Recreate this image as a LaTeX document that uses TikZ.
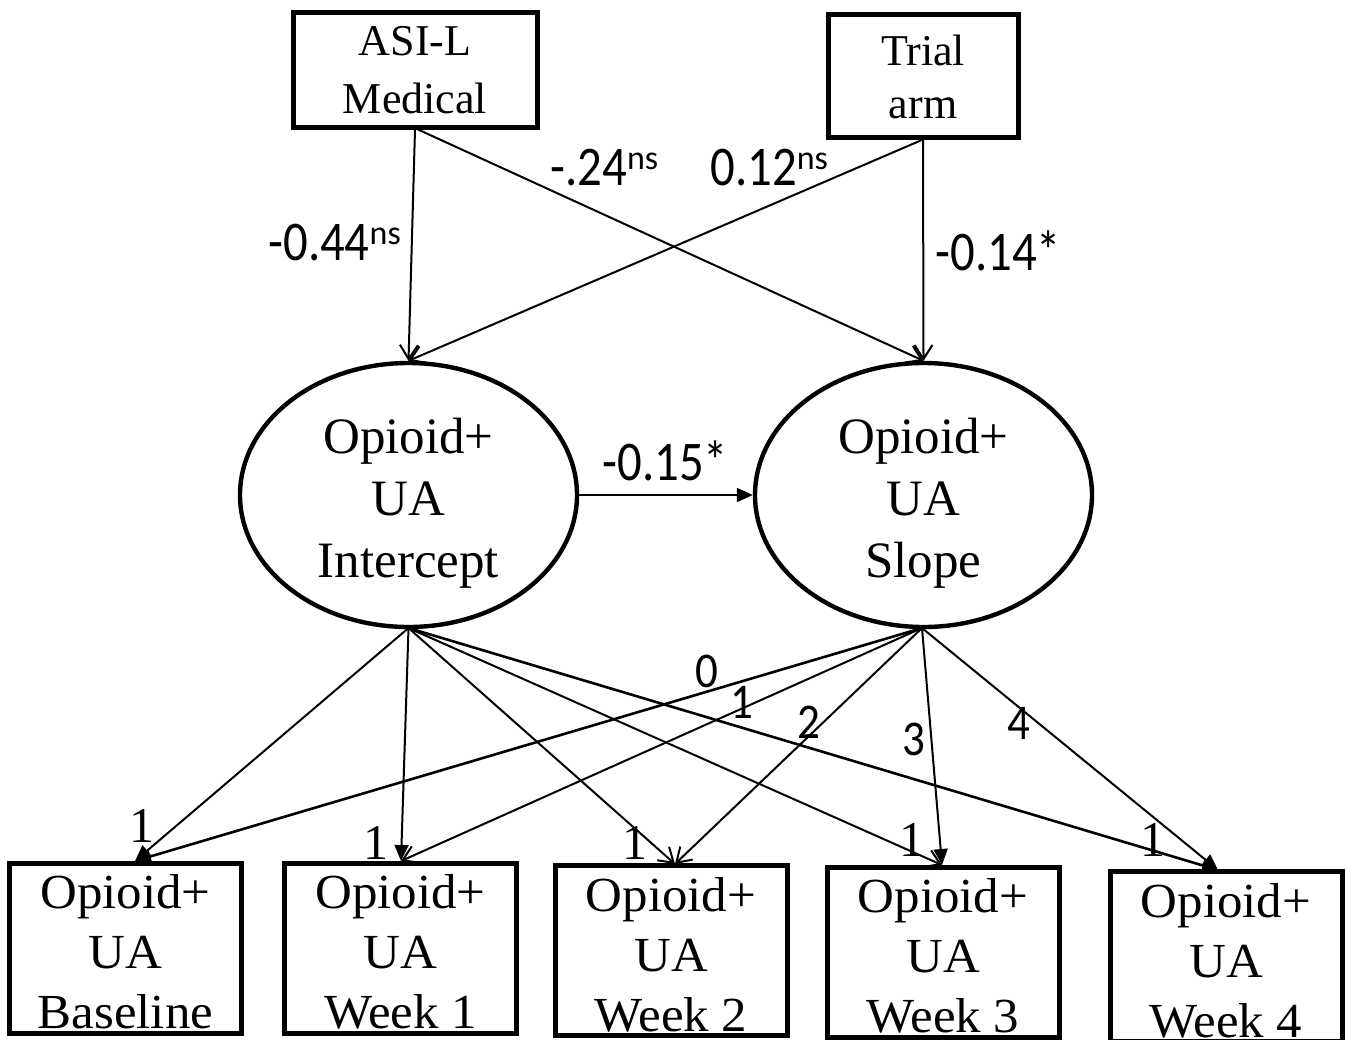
\documentclass[tikz,border=0pt]{standalone}
\usepackage{fontspec}
\setmainfont{Liberation Serif}
\newfontfamily\boxfont[FakeStretch=1.04]{Liberation Serif}
\newfontfamily\lblfont[FakeStretch=0.87]{Carlito}
\newfontfamily\supfont{Carlito}
\newfontfamily\numfont[FakeStretch=0.9]{Carlito}
\usetikzlibrary{arrows.meta,shapes.geometric}
\newcommand\supns[1]{\raisebox{8pt}{\supfont\fontsize{17}{17}\selectfont #1}}
\begin{document}
\begin{tikzpicture}[x=0.5pt,y=-0.5pt,
  tbox/.style={draw, line width=2.5pt, inner sep=0pt},
  ellnode/.style={draw, ellipse, line width=2.2pt, inner sep=0pt, minimum width=168.5pt, minimum height=132pt},
  obox/.style={draw, line width=2.5pt, inner sep=0pt, minimum width=116pt, minimum height=85pt},
  ttxt/.style={align=center, inner sep=0pt, font=\fontsize{22}{29}\selectfont},
  etxt/.style={align=center, inner sep=0pt, font=\fontsize{25.5}{31}\selectfont},
  btxt/.style={align=center, inner sep=0pt, font=\boxfont\fontsize{24.5}{30}\selectfont},
  coef/.style={inner sep=0pt, anchor=base west, font=\lblfont\fontsize{28}{30}\selectfont},
  tnum/.style={inner sep=0pt, font=\numfont\fontsize{25}{26}\selectfont},
  one/.style={inner sep=0pt, font=\fontsize{25}{26}\selectfont},
  openarr/.style={line width=1pt, -{Straight Barb[length=7pt,width=9pt,line width=1pt]}},
  fhead/.style={line width=1pt, -{Triangle[length=8pt,width=7pt]}}]
\useasboundingbox (0,0) rectangle (1347,1039);
\fill[white] (0,0) rectangle (1347,1039);

% top boxes
\node[tbox, minimum width=122pt, minimum height=57.5pt] (asi) at (415,69.5) {};
\node[ttxt] (asitxt) at (415,70) {ASI-L\\Medical};
\node[tbox, minimum width=95pt, minimum height=61.5pt] (trial) at (923,75.5) {};
\node[ttxt, font=\fontsize{22}{26.5}\selectfont] (trialtxt) at (923,77) {Trial\\arm};

% latent variables
\node[ellnode] (int) at (408.5,495) {};
\node[etxt] (inttxt) at (408.5,503) {Opioid+\\UA\\Intercept};
\node[ellnode] (slope) at (923.5,495) {};
\node[etxt] (slopetxt) at (923.5,503) {Opioid+\\UA\\Slope};

% observed boxes
\node[obox] (b0) at (125.5,948) {};
\node[obox] (b1) at (400.5,948) {};
\node[obox] (b2) at (671,950.5) {};
\node[obox] (b3) at (943,952) {};
\node[obox] (b4) at (1226,956.5) {};
\node[btxt] (b0txt) at (125.5,952) {Opioid+\\UA\\Baseline};
\node[btxt] (b1txt) at (400.5,952) {Opioid+\\UA\\Week 1};
\node[btxt] (b2txt) at (671,954.5) {Opioid+\\UA\\Week 2};
\node[btxt] (b3txt) at (943,956) {Opioid+\\UA\\Week 3};
\node[btxt] (b4txt) at (1226,960.5) {Opioid+\\UA\\Week 4};

% arrow targets on box tops
\coordinate (t0) at (135,861);
\coordinate (t1) at (401,861);
\coordinate (t2) at (675,864);
\coordinate (t3) at (942,865);
\coordinate (t4) at (1218,870);
\coordinate (intbot) at (408.5,628);
\coordinate (slopebot) at (922,628);

% top arrows
\draw[openarr] (asi.south) -- (int.north);
\draw[openarr] (asi.south) ++(3,0) -- (slope.north);
\draw[openarr] (trial.south) -- (int.north);
\draw[openarr] (trial.south) -- (slope.north);
\draw[fhead] (int.east) -- (slope.west);

% lower arrows from intercept
\draw[fhead] (intbot) -- (t0);
\draw[fhead] (intbot) -- (t1);
\draw[openarr] (intbot) -- (t2);
\draw[openarr] (intbot) -- (t3);
\draw[fhead, line width=1.3pt] (intbot) -- (t4);
% lower arrows from slope
\draw[fhead, line width=1.3pt] (slopebot) -- (t0);
\draw[openarr] (slopebot) -- (t1);
\draw[openarr] (slopebot) -- (t2);
\draw[fhead] (slopebot) -- (t3);
\draw[fhead] (slopebot) -- (t4);

% coefficient labels
\node[coef] (l1) at (268,260) {-0.44\supns{ns}};
\node[coef] (l2) at (550,185) {-.24\supns{ns}};
\node[coef] (l3) at (710,185) {0.12\supns{ns}};
\node[coef] (l4) at (935,270) {-0.14*};
\node[coef] (l5) at (602,480) {-0.15*};

% slope loadings
\node[tnum] (s0) at (707,671) {0};
\node[tnum] (s1) at (742,702) {1};
\node[tnum] (s2) at (809,722) {2};
\node[tnum] (s3) at (914,739) {3};
\node[tnum] (s4) at (1019,723) {4};

% intercept loadings
\node[one] (i0) at (142,826) {1};
\node[one] (i1) at (376,843) {1};
\node[one] (i2) at (635,843) {1};
\node[one] (i3) at (912,840) {1};
\node[one] (i4) at (1153,840) {1};
\end{tikzpicture}
\end{document}
